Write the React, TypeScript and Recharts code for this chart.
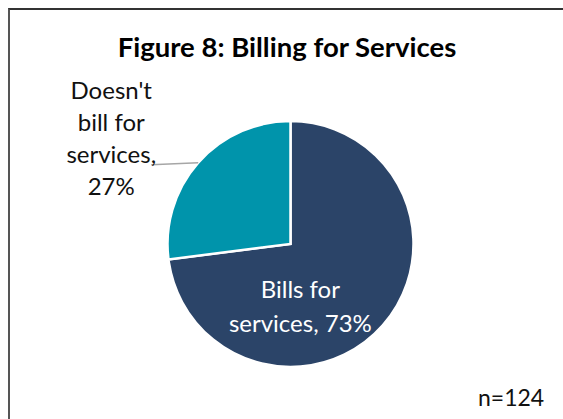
import { PieChart, Pie, Cell } from 'recharts'

const categories = ['Bills for services', "Doesn't bill for services"]
const shares = [73, 27]
const colors = ['#2b4468', '#0094ab']
const labelLines = [
  ['Bills for', 'services, 73%'],
  ["Doesn't", 'bill for', 'services,', '27%'],
]

const data = categories.map((name, i) => ({ name, value: shares[i] }))

const RADIAN = Math.PI / 180
const FONT = 'Lato, "Noto Sans", sans-serif'

function renderLabel(props: any) {
  const { cx, cy, midAngle, outerRadius, index } = props
  const lines = labelLines[index]

  if (index === 0) {
    // inside label, lower part of the big slice
    const x = cx + outerRadius * 0.08
    const y = cy + outerRadius * 0.44
    return (
      <text x={x} y={y} textAnchor="middle" fill="#ffffff" fontSize={24} fontFamily={FONT}>
        {lines.map((l, i) => (
          <tspan key={i} x={x} dy={i === 0 ? 0 : 34}>{l}</tspan>
        ))}
      </text>
    )
  }

  // outside label with a short leader line
  const ex = cx + outerRadius * Math.cos(-midAngle * RADIAN)
  const ey = cy + outerRadius * Math.sin(-midAngle * RADIAN)
  const tx = ex - 87
  const ty = ey - 64
  return (
    <g>
      <line x1={ex} y1={ey} x2={ex - 47} y2={ey + 2} stroke="#a6a6a6" strokeWidth={1.5} />
      <text x={tx} y={ty} textAnchor="middle" fill="#111111" fontSize={24} fontFamily={FONT}>
        {lines.map((l, i) => (
          <tspan key={i} x={tx} dy={i === 0 ? 0 : 32}>{l}</tspan>
        ))}
      </text>
    </g>
  )
}

export default function App() {
  return (
    <>
      <style>{'html,body{overflow:hidden;} ::-webkit-scrollbar{display:none;width:0;height:0;}'}</style>
      <div
        style={{
          position: 'fixed',
          left: 8,
          top: 8,
          width: 553,
          height: 409,
          borderTop: '2px solid #333333',
          borderLeft: '2px solid #555555',
          background: '#ffffff',
          fontFamily: FONT,
          overflow: 'hidden',
        }}
      >
        <div
          style={{
            position: 'absolute',
            left: 0,
            width: 554,
            top: 21,
            textAlign: 'center',
            fontSize: 27.5,
            fontWeight: 700,
            color: '#000000',
            lineHeight: '32px',
          }}
        >
          Figure 8: Billing for Services
        </div>
        <PieChart width={553} height={409} margin={{ top: 0, right: 0, bottom: 0, left: 0 }}>
          <Pie
            data={data}
            dataKey="value"
            nameKey="name"
            cx={280.5}
            cy={234}
            outerRadius={123}
            startAngle={90}
            endAngle={-270}
            stroke="#ffffff"
            strokeWidth={2.5}
            label={renderLabel}
            labelLine={false}
            isAnimationActive={false}
          >
            {data.map((d, i) => (
              <Cell key={d.name} fill={colors[i]} />
            ))}
          </Pie>
        </PieChart>
        <div
          style={{
            position: 'absolute',
            left: 468,
            top: 373,
            fontSize: 23,
            color: '#111111',
          }}
        >
          n=124
        </div>
      </div>
    </>
  )
}
